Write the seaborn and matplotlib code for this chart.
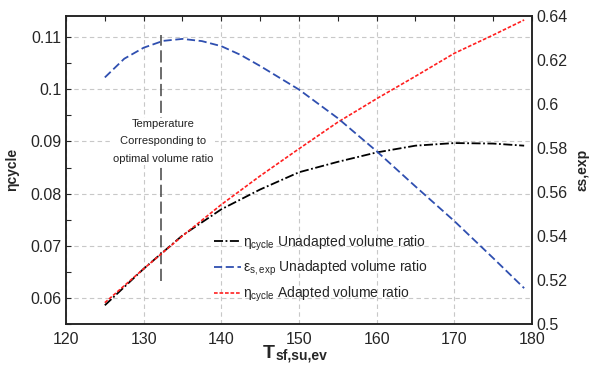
import numpy as np
import pandas as pd
import matplotlib
matplotlib.use("Agg")
import matplotlib.pyplot as plt
import matplotlib.ticker as mticker
import seaborn as sns

# values
temp = [125, 130, 135, 140, 145, 150, 155, 160, 165, 170, 175, 179]
eta_unadapted = [0.0586, 0.0656, 0.0720, 0.0770, 0.0808, 0.0841, 0.0861,
                 0.0879, 0.0892, 0.0897, 0.0896, 0.0892]
eta_adapted = [0.0591, 0.0656, 0.0719, 0.0779, 0.0834, 0.0886, 0.0937,
               0.0982, 0.1025, 0.1069, 0.1104, 0.1133]
temp_eps = [125, 127.5, 130, 132.5, 135, 137.5, 140, 142.5, 145, 150, 155,
            160, 165, 170, 175, 179]
eps_unadapted = [0.6120, 0.6205, 0.6255, 0.6286, 0.6295, 0.6285, 0.6262,
                 0.6222, 0.6172, 0.6065, 0.5935, 0.5785, 0.5625, 0.5468,
                 0.5300, 0.5163]
opt_temp = 132.2
opt_eta = [0.0633, 0.1104]

lab_eta_un = r"$\eta_{cycle}$ Unadapted volume ratio"
lab_eps_un = r"$\varepsilon_{s,exp}$ Unadapted volume ratio"
lab_eta_ad = r"$\eta_{cycle}$ Adapted volume ratio"

df = pd.DataFrame({"T": temp, "eta_un": eta_unadapted, "eta_ad": eta_adapted})
df_eps = pd.DataFrame({"T": temp_eps, "eps_un": eps_unadapted})

sns.set_style("white")
plt.rcParams["font.family"] = ["Liberation Sans", "DejaVu Sans"]
plt.rcParams["mathtext.default"] = "regular"

fig = plt.figure(figsize=(5.92, 3.67), dpi=100)
ax = fig.add_axes([0.1115, 0.117, 0.787, 0.84])
ax2 = ax.twinx()

sns.lineplot(data=df, x="T", y="eta_un", ax=ax, color="black", lw=1.3,
             linestyle=(0, (5, 1.4, 1, 1.4)), label=lab_eta_un, legend=False)
sns.lineplot(data=df, x="T", y="eta_ad", ax=ax, color="#ff2020", lw=1.2,
             linestyle=(0, (2.2, 1.1)), label=lab_eta_ad, legend=False)
sns.lineplot(data=df_eps, x="T", y="eps_un", ax=ax2, color="#2f4fb0", lw=1.3,
             linestyle=(0, (4.5, 2)), label=lab_eps_un, legend=False)

# optimum marker line + note
ax.vlines(opt_temp, opt_eta[0], opt_eta[1], color="#444444", lw=1.1,
          linestyles=(0, (8, 3)), zorder=1.5)
ax.text(opt_temp + 0.3, 0.0900, "Temperature\nCorresponding to\noptimal volume ratio",
        ha="center", va="center", fontsize=8, color="#222222", linespacing=1.9,
        bbox=dict(facecolor="white", edgecolor="none", pad=1), zorder=3)

ax.set_xlim(120, 180)
ax.set_ylim(0.055, 0.1141)
ax2.set_ylim(0.5, 0.64)

ax.xaxis.set_major_locator(mticker.MultipleLocator(10))
ax.xaxis.set_minor_locator(mticker.MultipleLocator(5))
ax.yaxis.set_major_locator(mticker.MultipleLocator(0.01))
ax.yaxis.set_minor_locator(mticker.MultipleLocator(0.005))
ax2.yaxis.set_major_locator(mticker.MultipleLocator(0.02))
fmt = mticker.FuncFormatter(lambda v, p: "%g" % round(v, 3))
ax.yaxis.set_major_formatter(fmt)
ax2.yaxis.set_major_formatter(fmt)

ax.grid(True, which="major", color="#c8c8c8", linestyle=(0, (4, 3)), lw=0.8)
ax.set_axisbelow(True)

ax.tick_params(axis="both", which="both", direction="in", labelsize=11.5,
               top=True, length=3.5, width=0.8)
ax.tick_params(axis="x", pad=6)
ax2.tick_params(axis="y", which="both", direction="in", labelsize=11.5,
                length=0, pad=3)

for a in (ax, ax2):
    for s in a.spines.values():
        s.set_color("#222222")
        s.set_linewidth(1.1)

# x label: big bold T with a smaller bold subscript next to it
ax.set_xlabel("T", fontsize=14, fontweight="bold")
ax.xaxis.set_label_coords(0.436, -0.068)
ax.annotate("sf,su,ev", xy=(1, 0), xycoords=ax.xaxis.label, xytext=(0.5, 0),
            textcoords="offset points", ha="left", va="bottom",
            fontsize=10, fontweight="bold")
ax.set_ylabel("ηcycle", fontsize=10, fontweight="bold", labelpad=8)
ax2.set_ylabel("εs,exp", fontsize=10, fontweight="bold", labelpad=6)

h1, l1 = ax.get_legend_handles_labels()
h2, l2 = ax2.get_legend_handles_labels()
handles = [h1[0], h2[0], h1[1]]
labels = [l1[0], l2[0], l1[1]]
ax2.legend(handles, labels, loc="center left", bbox_to_anchor=(0.318, 0.18),
           frameon=False, fontsize=10, handlelength=1.9, handletextpad=0.15,
           labelspacing=0.45, borderpad=0, borderaxespad=0)

fig.savefig("out.png", dpi=100)
